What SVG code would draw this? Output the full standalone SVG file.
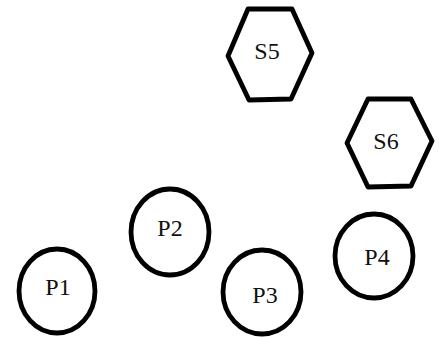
<svg xmlns="http://www.w3.org/2000/svg" width="439" height="337" viewBox="0 0 439 337">
<style>
.n{fill:none;stroke:#000;stroke-width:4.8;stroke-linejoin:round}
.t{font-family:"Liberation Serif",serif;font-size:24px;fill:#111;text-anchor:middle}
</style>
<rect width="439" height="337" fill="#fff"/>
<g id="connectors"></g>
<g id="S5"><polygon class="n" points="248,9 292,9 312,53 291,99 249,100 228,56"/><text class="t" x="267" y="59">S5</text></g>
<g id="S6"><polygon class="n" points="368,99 411,99 432,141 411,186 368,187 347,143"/><text class="t" x="386" y="149">S6</text></g>
<g id="P1"><ellipse class="n" cx="57" cy="291" rx="38" ry="42"/><text class="t" x="58" y="295">P1</text></g>
<g id="P2"><ellipse class="n" cx="170" cy="232" rx="39" ry="43"/><text class="t" x="170" y="236">P2</text></g>
<g id="P3"><ellipse class="n" cx="262" cy="292" rx="39" ry="42"/><text class="t" x="265" y="303">P3</text></g>
<g id="P4"><ellipse class="n" cx="374" cy="256" rx="39" ry="42"/><text class="t" x="377" y="265">P4</text></g>
</svg>
